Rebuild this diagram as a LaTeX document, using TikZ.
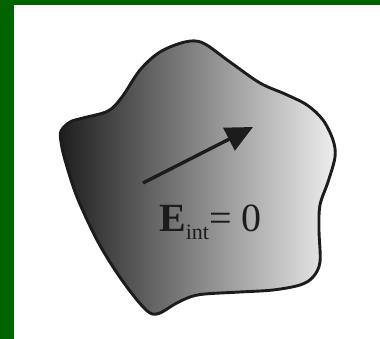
\documentclass[tikz,border=0pt]{standalone}
\usepackage{fontspec}
\setmainfont{Liberation Serif}
\usetikzlibrary{arrows.meta}
\definecolor{bordergreen}{HTML}{006400}
\definecolor{darkside}{HTML}{1E1E1E}
\definecolor{lightside}{HTML}{EEEEEE}
\definecolor{ink}{HTML}{1C1C1C}
\tikzset{
  blob/.style={draw=ink, line width=2.9pt, left color=darkside, right color=lightside},
  fieldarrow/.style={draw=ink, line width=3.4pt, -{Triangle[length=27pt,width=25pt]}},
}
\begin{document}
\begin{tikzpicture}[x=1pt,y=-1pt]
\useasboundingbox (0,0) rectangle (380,339);
\fill[white] (0,0) rectangle (380,339);
\fill[bordergreen] (0,0) rectangle (14,339);
\fill[bordergreen] (0,0) rectangle (380,5);
\path[blob] plot[smooth cycle, tension=0.55] coordinates {
 (61,131) (70,122) (83,118) (108,111) (122,97) (140,70) (160,52) (185,42) (203,43)
 (230,62) (260,83) (285,94) (307,105) (323,120) (333,140) (335,157) (328,182)
 (320,205) (319,230) (320,262) (313,277) (300,285) (273,290) (240,292) (205,294)
 (190,297) (175,304) (160,313) (150,313) (137,300) (117,273) (97,240) (77,197)
 (65,160) (61,142)};
\coordinate (tail) at (143,183);
\coordinate (tip) at (253,127);
\draw[fieldarrow] (tail) -- (tip);
\node[anchor=base west, inner sep=0, text=ink] (lbl) at (159,232)
 {\fontsize{40}{40}\selectfont\textbf{E}\raisebox{-8pt}{\fontsize{22}{22}\selectfont int}= 0};
\end{tikzpicture}
\end{document}
